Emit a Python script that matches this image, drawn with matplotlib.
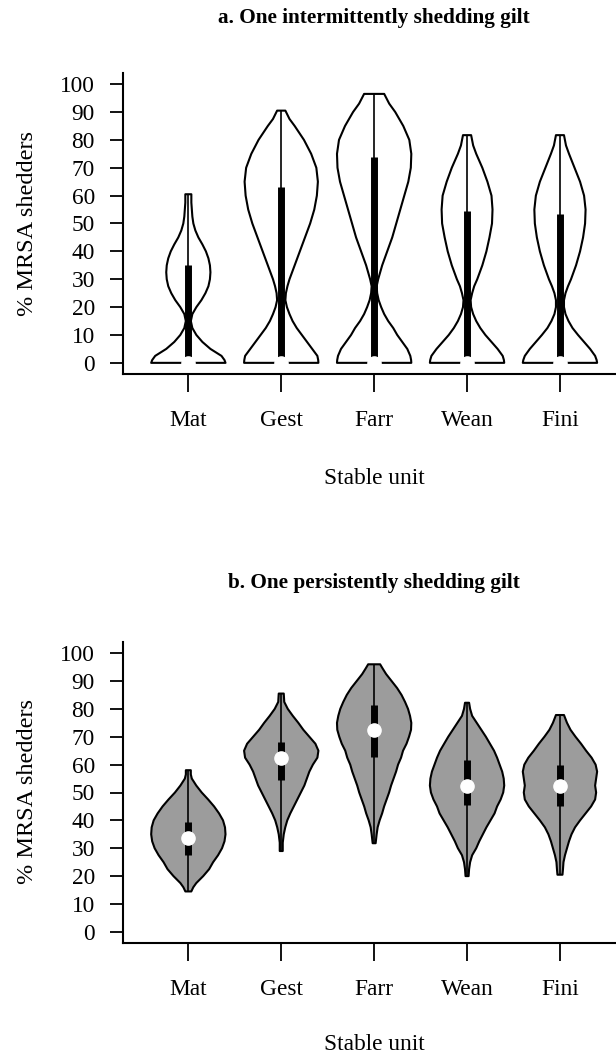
import numpy as np
import matplotlib
matplotlib.use("Agg")
import matplotlib.pyplot as plt

plt.rcParams['font.family'] = ['Liberation Serif', 'DejaVu Serif']

units = ["Mat", "Gest", "Farr", "Wean", "Fini"]
y_ticks = list(range(0, 101, 10))

# ---- a. one intermittently shedding gilt: % shedders, density profiles per unit
a_levels = [
    [0, 1, 2.5, 5, 7.5, 10, 12.5, 15, 17.5, 20, 22.5, 25, 27.5, 30, 32.5, 35, 37.5, 40,
     42.5, 45, 47.5, 50, 52.5, 55, 57.5, 60.5],
    [0, 1, 2.5, 5, 7.5, 10, 12.5, 15, 17.5, 20, 22.5, 25, 27.5, 30, 35, 40, 45, 50, 55,
     60, 65, 70, 75, 80, 85, 87.5, 90.5],
    [0, 1, 2.5, 5, 7.5, 10, 12.5, 15, 17.5, 20, 22.5, 25, 27.5, 30, 35, 40, 45, 50, 55,
     60, 65, 70, 75, 80, 85, 90, 93, 96.5],
    [0, 1, 2.5, 5, 7.5, 10, 12.5, 15, 17.5, 20, 22.5, 25, 27.5, 30, 35, 40, 45, 50, 55,
     60, 65, 70, 75, 78, 81.7],
    [0, 1, 2.5, 5, 7.5, 10, 12.5, 15, 17.5, 20, 22.5, 25, 27.5, 30, 35, 40, 45, 50, 55,
     60, 65, 70, 75, 78, 81.7],
]
a_density = [
    [37, 36, 33, 22, 14, 8, 4, 2.5, 4, 8, 13, 17, 20, 21.5, 22, 21.5, 20, 17.5,
     14, 10, 7, 5, 4, 3.5, 3, 3],
    [36, 35.8, 35, 30, 25, 20, 15, 11, 8, 5.5, 4, 4.5, 6, 8, 13, 18, 23, 28, 32,
     34.5, 35.5, 34, 29, 22, 13, 8, 4],
    [37, 36.8, 36, 33, 28, 23, 19, 14, 10, 7, 4.5, 3, 2.5, 4, 8, 13, 18, 22, 26,
     30, 34, 36.5, 37, 35, 29, 21, 15, 10],
    [36.5, 36.2, 35, 30, 24, 18, 13, 9, 6, 4, 3.5, 5, 7, 10, 15, 19, 22, 24.5, 25,
     24, 20, 15, 9, 6, 4],
    [37, 36.5, 35, 30, 24, 18, 12.5, 8.5, 5.5, 4, 4, 5.5, 8, 11, 16, 20, 23, 25, 25.5,
     24, 20, 14.5, 9, 6, 4],
]
a_min = [0, 0, 0, 0, 0]
a_q1 = [0, 0, 0, 0, 0]
a_median = [0, 0, 0, 0, 0]
a_q3 = [35, 63, 74, 54.5, 53.4]
a_max = [60.5, 90.5, 96.5, 81.7, 81.7]

# ---- b. one persistently shedding gilt
b_levels = [
    [14.5, 16, 17.5, 20, 22.5, 25, 27.5, 30, 32.5, 35, 37.5, 40, 42.5, 45, 47.5, 50,
     52.5, 55, 56.5, 58],
    [29, 32, 35, 37.5, 40, 42.5, 45, 47.5, 50, 52.5, 55, 57.5, 60, 62.5, 65, 67.5, 70,
     72.5, 75, 77.5, 80, 82.5, 85.5],
    [31.8, 35, 37.5, 40, 42.5, 45, 47.5, 50, 52.5, 55, 57.5, 60, 62.5, 65, 67.5, 70,
     72.5, 75, 77.5, 80, 82.5, 85, 87.5, 90, 92.5, 94.5, 96],
    [20, 22.5, 25, 27.5, 30, 32.5, 35, 37.5, 40, 42.5, 45, 47.5, 50, 52.5, 55, 57.5,
     60, 62.5, 65, 67.5, 70, 72.5, 75, 77.5, 80, 82.2],
    [20.5, 22.5, 25, 27.5, 30, 32.5, 35, 37.5, 40, 42.5, 45, 47.5, 50, 52.5, 55, 57.5,
     60, 62.5, 65, 67.5, 70, 72.5, 75, 77.8],
]
b_density = [
    [3, 5, 8, 15, 21, 25, 30, 34, 36.5, 37.5, 37, 35, 31, 26, 20, 13.5, 8, 3.5, 2.5, 2.5],
    [1.5, 1.5, 2.5, 4, 6, 9, 12.5, 16, 19.5, 23, 25.5, 28, 31.5, 36, 37, 34, 28, 22,
     17, 11.5, 6.5, 3, 2.5],
    [1.5, 2.5, 3.5, 5.5, 8, 10, 12.5, 15, 17, 19.5, 22, 24, 27, 29, 32.5, 35, 37, 37.3,
     36, 34, 31, 27.5, 23, 17.5, 12, 8.5, 6],
    [1.5, 2, 3, 5, 9, 12, 15.5, 19, 23, 27, 29.5, 33, 35.5, 36.5, 36, 34.5, 32, 29.5,
     26.5, 22.5, 18.5, 14, 9.5, 5, 3, 2],
    [2.5, 3, 3.5, 5, 7, 9, 11.5, 15, 20, 25.5, 31, 35, 36, 35, 36, 37, 35.5, 31.5, 26,
     21, 15.5, 10.5, 7, 4],
]
b_min = [14.5, 29, 31.8, 20, 20.5]
b_q1 = [27.6, 54.5, 62.8, 45.5, 45.3]
b_median = [33.7, 62.2, 72.6, 52.4, 52.4]
b_q3 = [39.5, 68.2, 81.4, 61.6, 59.9]
b_max = [58, 85.5, 96, 82.2, 77.8]

HALF_WIDTH = 0.4
W, H, DPI = 616, 1057, 100

fig = plt.figure(figsize=(W / DPI, H / DPI), dpi=DPI)
fig.patch.set_facecolor('white')


def draw_violins(ax, levels, dens, lo, q1, med, q3, hi, face):
    for i, (lv, d) in enumerate(zip(levels, dens)):
        pos = i + 1
        lv = np.asarray(lv, float)
        d = np.asarray(d, float)
        hw = HALF_WIDTH * d / d.max()
        xs = np.concatenate([pos - hw, (pos + hw)[::-1]])
        ys = np.concatenate([lv, lv[::-1]])
        ax.fill(xs, ys, facecolor=face, edgecolor='black', lw=1.5,
                joinstyle='round', zorder=2)
        ax.vlines(pos, lo[i], hi[i], color='black', lw=1.2, zorder=3)
        ax.vlines(pos, q1[i], q3[i], color='black', lw=5, capstyle='butt', zorder=4)
        ax.plot(pos, med[i], 'o', color='white', mec='white', ms=9.5, zorder=5)


def style_axes(ax):
    ax.set_xlim(0.3, 5.7)
    ax.set_ylim(-4, 104)
    for s in ('top', 'right'):
        ax.spines[s].set_visible(False)
    for s in ('left', 'bottom'):
        ax.spines[s].set_linewidth(1.5)
    ax.set_xticks(range(1, 6))
    ax.set_xticklabels(units)
    ax.set_yticks(y_ticks)
    ax.tick_params(axis='y', length=9.4, width=1.3, pad=11, labelsize=16.8)
    ax.tick_params(axis='x', length=13, width=1.3, pad=13, labelsize=16.8)
    ax.set_facecolor('none')


def px_axes(top_px, bottom_px, left_px=123.3, right_px=625):
    return [left_px / W, 1 - bottom_px / H, (right_px - left_px) / W,
            (bottom_px - top_px) / H]


ax_a = fig.add_axes(px_axes(73, 374))
draw_violins(ax_a, a_levels, a_density, a_min, a_q1, a_median, a_q3, a_max, 'white')
style_axes(ax_a)

ax_b = fig.add_axes(px_axes(642, 943))
draw_violins(ax_b, b_levels, b_density, b_min, b_q1, b_median, b_q3, b_max, '#9c9c9c')
style_axes(ax_b)

cx = (123.3 + 625) / 2 / W
fig.text(cx, 1 - 18 / H, "a. One intermittently shedding gilt", ha='center',
         va='center', fontsize=15.3, fontweight='bold')
fig.text(cx, 1 - 583 / H, "b. One persistently shedding gilt", ha='center',
         va='center', fontsize=15.3, fontweight='bold')
fig.text(cx, 1 - 478 / H, "Stable unit", ha='center', va='center', fontsize=16.8)
fig.text(cx, 1 - 1045 / H, "Stable unit", ha='center', va='center', fontsize=16.8)
fig.text(28 / W, 1 - 223 / H, "% MRSA shedders", ha='center', va='center',
         rotation=90, fontsize=17.5)
fig.text(28 / W, 1 - 792 / H, "% MRSA shedders", ha='center', va='center',
         rotation=90, fontsize=17.5)

fig.savefig("out.png", dpi=DPI, facecolor='white')
